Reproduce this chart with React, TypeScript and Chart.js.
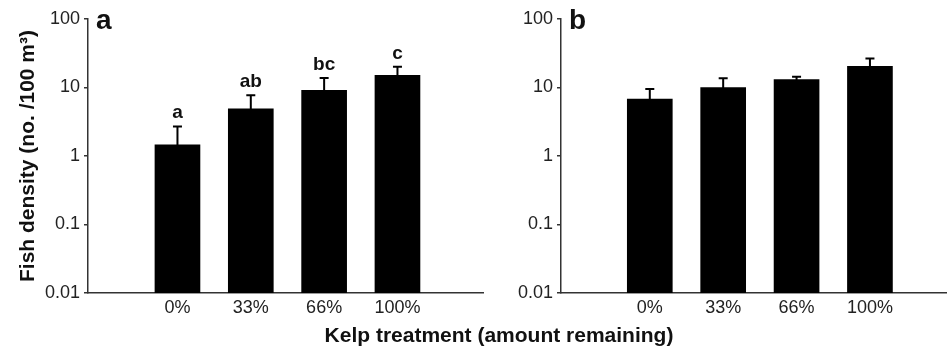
import React, { useEffect, useRef } from 'react';
import { Chart, registerables } from 'chart.js';

Chart.register(...registerables);

const FONT = '"Liberation Sans", Arial, Helvetica, sans-serif';

const categories = ['0%', '33%', '66%', '100%'];
const categoryPositions = [0, 1, 2, 3];

const densityA = [1.46, 4.9, 9.1, 15.1];
const errorTopA = [2.7, 7.7, 13.8, 20.1];
const lettersA = ['a', 'ab', 'bc', 'c'];

const densityB = [6.8, 10.0, 13.1, 20.3];
const errorTopB = [9.5, 13.6, 14.3, 26.5];

const yTicks = [0.01, 0.1, 1, 10, 100];
const yTickLabels = ['0.01', '0.1', '1', '10', '100'];

const yTitleText = 'Fish density (no. /100 m³)';
const xTitleText = 'Kelp treatment (amount remaining)';

type PanelProps = {
  left: number;
  width: number;
  height: number;
  axisWidth: number;
  xMin: number;
  xMax: number;
  values: number[];
  errors: number[];
  letters?: string[];
  panelLabel: string;
  yTitle?: string;
};

function Panel(props: PanelProps) {
  const ref = useRef<HTMLCanvasElement>(null);
  useEffect(() => {
    const { values, errors, letters, panelLabel, yTitle, axisWidth, xMin, xMax } = props;
    const annot = {
      id: 'annot',
      afterDatasetsDraw(chart: any) {
        const ctx = chart.ctx;
        const xs = chart.scales.x;
        const ys = chart.scales.y;
        ctx.save();
        ctx.strokeStyle = '#000';
        ctx.lineWidth = 2;
        ctx.lineCap = 'butt';
        values.forEach((v, i) => {
          const px = xs.getPixelForValue(categoryPositions[i]);
          const py0 = ys.getPixelForValue(v);
          const py1 = ys.getPixelForValue(errors[i]);
          ctx.beginPath();
          ctx.moveTo(px, py0 + 2);
          ctx.lineTo(px, py1);
          ctx.moveTo(px - 4.5, py1);
          ctx.lineTo(px + 4.5, py1);
          ctx.stroke();
          if (letters) {
            ctx.fillStyle = '#111';
            ctx.font = `bold 19px ${FONT}`;
            ctx.textAlign = 'center';
            ctx.textBaseline = 'alphabetic';
            ctx.fillText(letters[i], px, py1 - 8);
          }
        });
        ctx.fillStyle = '#111';
        ctx.font = `bold 28px ${FONT}`;
        ctx.textAlign = 'left';
        ctx.textBaseline = 'alphabetic';
        ctx.fillText(panelLabel, chart.chartArea.left + 8, chart.chartArea.top + 10);
        ctx.restore();
      },
    };

    const chart = new Chart(ref.current as HTMLCanvasElement, {
      type: 'bar',
      data: {
        datasets: [
          {
            data: values.map((v, i) => ({ x: categoryPositions[i], y: v })),
            backgroundColor: '#000',
            borderWidth: 0,
            barThickness: 45,
          } as any,
        ],
      },
      options: {
        responsive: false,
        animation: false,
        layout: { padding: { top: 19, bottom: 0, left: 0, right: 0 } },
        plugins: { legend: { display: false }, tooltip: { enabled: false } },
        scales: {
          x: {
            type: 'linear',
            min: xMin,
            max: xMax,
            offset: false,
            grid: { display: false, drawTicks: false, tickLength: 0 },
            border: { display: true, color: '#333', width: 1.5 },
            ticks: {
              font: { family: FONT, size: 18 },
              color: '#222',
              padding: 4,
              callback: (v: any) => categories[v] ?? '',
            },
            afterBuildTicks: (s: any) => {
              s.ticks = categoryPositions.map((v) => ({ value: v }));
            },
            afterFit: (s: any) => {
              s.height = 55;
            },
          },
          y: {
            type: 'logarithmic',
            min: 0.01,
            max: 100,
            grid: { drawOnChartArea: false, drawTicks: true, tickLength: 4, color: '#333', lineWidth: 1.5 },
            border: { display: true, color: '#333', width: 1.5 },
            ticks: {
              font: { family: FONT, size: 18 },
              color: '#222',
              padding: 4,
              callback: (_v: any, i: number) => yTickLabels[i],
            },
            afterBuildTicks: (s: any) => {
              s.ticks = yTicks.map((v) => ({ value: v }));
            },
            afterFit: (s: any) => {
              s.width = axisWidth;
            },
            title: yTitle
              ? {
                  display: true,
                  text: yTitle,
                  color: '#111',
                  font: { family: FONT, size: 21, weight: 'bold' },
                  padding: { top: 16, bottom: 0 },
                }
              : { display: false },
          },
        } as any,
      },
      plugins: [annot],
    });
    return () => chart.destroy();
  }, []);
  return (
    <canvas
      ref={ref}
      width={props.width}
      height={props.height}
      style={{ position: 'absolute', left: props.left, top: 0, width: props.width, height: props.height }}
    />
  );
}

export default function App() {
  return (
    <div style={{ position: 'absolute', left: 0, top: 0, width: 947, height: 348, background: '#fff', overflow: 'hidden' }}>
      <Panel
        left={0}
        width={484}
        height={348}
        axisWidth={88}
        xMin={-1.22}
        xMax={4.18}
        values={densityA}
        errors={errorTopA}
        letters={lettersA}
        panelLabel="a"
        yTitle={yTitleText}
      />
      <Panel
        left={484}
        width={463}
        height={348}
        axisWidth={77}
        xMin={-1.21}
        xMax={4.05}
        values={densityB}
        errors={errorTopB}
        panelLabel="b"
      />
      <div
        style={{
          position: 'absolute',
          left: 499,
          top: 324,
          transform: 'translateX(-50%)',
          font: `bold 21px ${FONT}`,
          lineHeight: '21px',
          whiteSpace: 'nowrap',
          color: '#111',
        }}
      >
        {xTitleText}
      </div>
    </div>
  );
}
